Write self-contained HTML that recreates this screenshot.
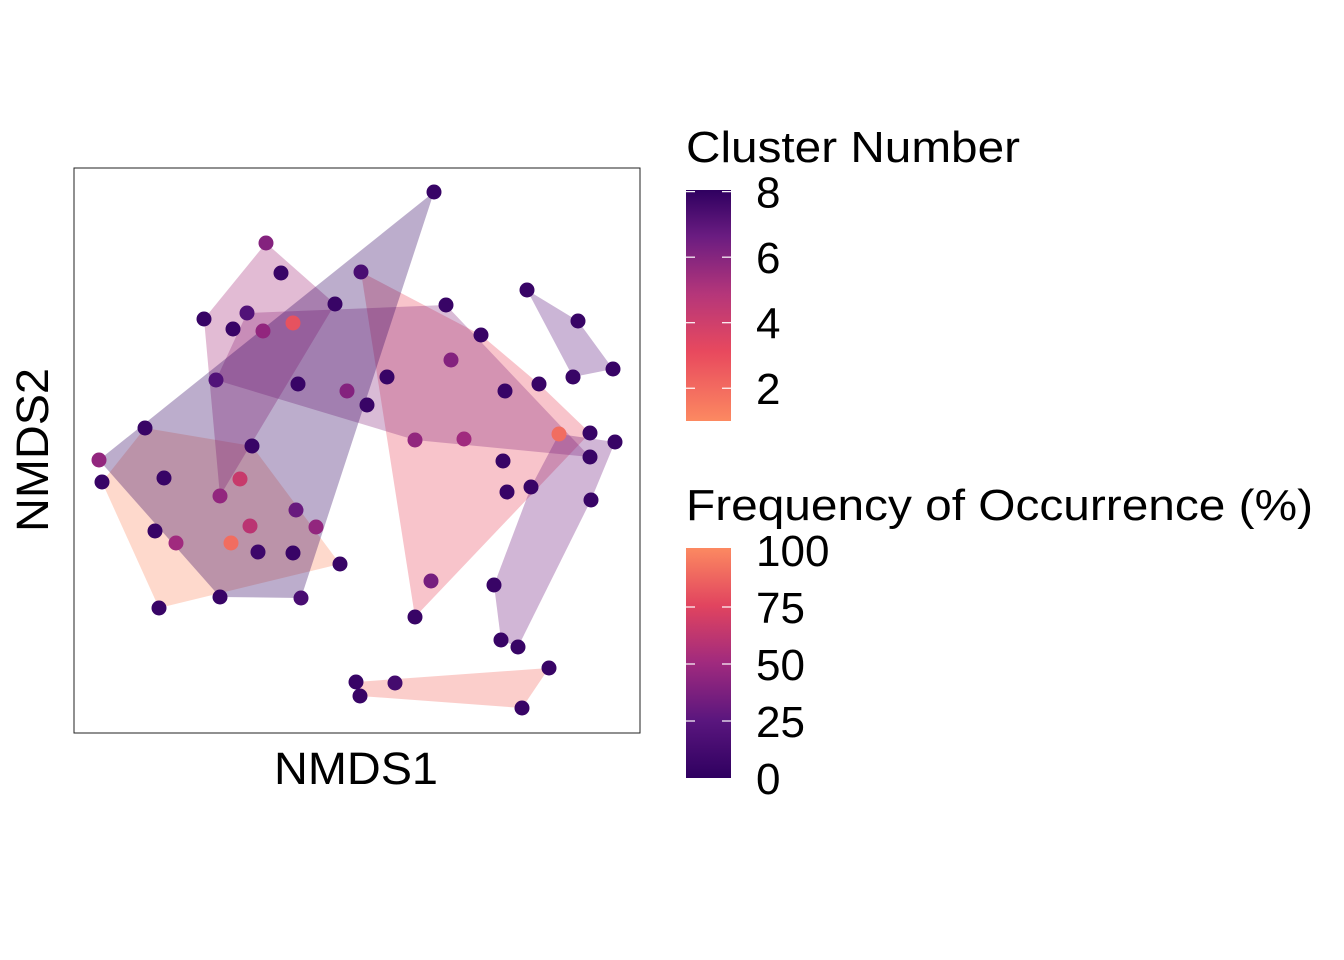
<!DOCTYPE html>
<html><head><meta charset="utf-8">
<style>
html,body{margin:0;padding:0;background:#fff;}
svg{display:block;font-family:"Liberation Sans",Arial,sans-serif;}
</style></head>
<body>
<svg id="chart" width="1344" height="960" viewBox="0 0 1344 960">
<defs>
<linearGradient id="gClust" x1="0" y1="1" x2="0" y2="0">
<stop offset="0" stop-color="#fc8961"/><stop offset="0.3" stop-color="#e8495e"/><stop offset="0.55" stop-color="#b5367a"/><stop offset="0.8" stop-color="#6a1c81"/><stop offset="1" stop-color="#2f0060"/>
</linearGradient>
<linearGradient id="gFreq" x1="0" y1="1" x2="0" y2="0">
<stop offset="0" stop-color="#2f0060"/><stop offset="0.25" stop-color="#5a167e"/><stop offset="0.5" stop-color="#a02a7e"/><stop offset="0.75" stop-color="#e1445f"/><stop offset="1" stop-color="#fc8961"/>
</linearGradient>
</defs>
<rect x="74" y="168" width="566" height="565" fill="#fff" stroke="#222" stroke-width="1"/>
<g id="hulls"></g>
<g id="points"></g>
<text x="274" y="784" font-size="45" textLength="164" lengthAdjust="spacingAndGlyphs">NMDS1</text>
<text transform="translate(48,532) rotate(-90)" font-size="45" textLength="164" lengthAdjust="spacingAndGlyphs">NMDS2</text>

<g>
<text x="686" y="162" font-size="44" textLength="334" lengthAdjust="spacingAndGlyphs">Cluster Number</text>
<rect x="686" y="190" width="45" height="231" fill="url(#gClust)"/>
<g id="clustTicks"></g>
</g>
<g>
<text x="686" y="520" font-size="44" textLength="627" lengthAdjust="spacingAndGlyphs">Frequency of Occurrence (%)</text>
<rect x="686" y="548" width="45" height="230" fill="url(#gFreq)"/>
<g id="freqTicks"></g>
</g>
</svg>
<script>
// data (NMDS coordinates in plot units)
const ptX = [102,159,340,252,145,164,155,176,231,258,293,
             99,434,301,220,250,296,316,240,
             266,281,335,204,233,220,
             247,446,590,415,464,216,263,298,347,367,293,
             361,481,590,415,431,451,387,505,539,503,507,
             559,615,591,518,501,494,531,
             527,578,613,573,
             356,395,360,549,522];
const ptY = [482,608,564,446,428,478,531,543,543,552,553,
             460,192,598,597,526,510,527,479,
             243,273,304,319,329,496,
             313,305,457,440,439,380,331,384,391,405,323,
             272,335,433,617,581,360,377,391,384,461,492,
             434,442,500,647,640,585,487,
             290,321,369,377,
             682,683,696,668,708];
const ptCluster = [1,1,1,1,1,1,1,1,1,1,1,
             8,8,8,8,8,8,8,8,
             5,5,5,5,5,5,
             4,4,4,4,4,4,4,4,4,4,4,
             3,3,3,3,3,3,3,3,3,3,3,
             6,6,6,6,6,6,6,
             7,7,7,7,
             2,2,2,2,2];
const ptFreq = [5,5,5,5,5,5,5,50,90,8,5,
             45,5,15,5,60,30,45,65,
             40,5,5,5,5,45,
             20,5,5,45,50,20,45,5,40,5,80,
             15,5,5,5,35,40,5,5,5,5,5,
             90,5,5,5,5,5,5,
             5,5,5,5,
             5,12,5,5,5];
const clusterLevels = [1,2,3,4,5,6,7,8];
const clusterTickLabels = ["2","4","6","8"];
const clusterTickValues = [2,4,6,8];
const freqTickValues = [0,25,50,75,100];
const freqTickLabels = ["0","25","50","75","100"];

const NS="http://www.w3.org/2000/svg";
const xScale = v => 74 + (v-74)*(566/566);
const yScale = v => 168 + (v-168)*(565/565);
const clusterFill = ["#fc8961","#f2685c","#e8495e","#8a2a7e","#a62b78","#6f1d80","#5e1a7e","#2f0060"];
function hexToRgb(h){return [parseInt(h.substr(1,2),16),parseInt(h.substr(3,2),16),parseInt(h.substr(5,2),16)];}
const fStops=[[0,"#2f0060"],[25,"#5a167e"],[50,"#a02a7e"],[75,"#e1445f"],[100,"#fc8961"]];
function freqColor(f){
  for(let i=0;i<fStops.length-1;i++){
    if(f<=fStops[i+1][0]){const t=(f-fStops[i][0])/(fStops[i+1][0]-fStops[i][0]);
      const a=hexToRgb(fStops[i][1]),b=hexToRgb(fStops[i+1][1]);
      return `rgb(${a.map((c,k)=>Math.round(c+(b[k]-c)*t)).join(',')})`;}
  }
  return fStops[4][1];
}
function hull(p){
  p=p.slice().sort((a,b)=>a[0]-b[0]||a[1]-b[1]);
  const cr=(o,a,b)=>(a[0]-o[0])*(b[1]-o[1])-(a[1]-o[1])*(b[0]-o[0]);
  const lo=[],up=[];
  for(const q of p){while(lo.length>=2&&cr(lo[lo.length-2],lo[lo.length-1],q)<=0)lo.pop();lo.push(q);}
  for(let i=p.length-1;i>=0;i--){const q=p[i];while(up.length>=2&&cr(up[up.length-2],up[up.length-1],q)<=0)up.pop();up.push(q);}
  up.pop();lo.pop();return lo.concat(up);
}
const hg=document.getElementById('hulls');
clusterLevels.forEach(c=>{
  const pts=[];
  ptX.forEach((x,i)=>{if(ptCluster[i]===c)pts.push([xScale(x),yScale(ptY[i])]);});
  if(pts.length<3)return;
  const h=hull(pts);
  const poly=document.createElementNS(NS,'polygon');
  poly.setAttribute('points',h.map(q=>q.join(',')).join(' '));
  poly.setAttribute('fill',clusterFill[c-1]);
  poly.setAttribute('fill-opacity','0.32');
  
  
  hg.appendChild(poly);
});
const pg=document.getElementById('points');
ptX.forEach((x,i)=>{
  const c=document.createElementNS(NS,'circle');
  c.setAttribute('cx',xScale(x));c.setAttribute('cy',yScale(ptY[i]));c.setAttribute('r',7.5);
  c.setAttribute('fill',freqColor(ptFreq[i]));
  
  
  pg.appendChild(c);
});
// legends
const cY=v=>421-(v-1)*(231/7.05);
const ct=document.getElementById('clustTicks');
clusterTickValues.forEach((v,i)=>{
  const y=cY(v);
  [[686,695],[722,731]].forEach(s=>{const l=document.createElementNS(NS,'line');
    l.setAttribute('x1',s[0]);l.setAttribute('x2',s[1]);l.setAttribute('y1',y);l.setAttribute('y2',y);
    l.setAttribute('stroke','#fff');l.setAttribute('stroke-width','1.2');
    
    
    ct.appendChild(l);});
  const t=document.createElementNS(NS,'text');
  t.setAttribute('x',756);t.setAttribute('y',y+16);t.setAttribute('font-size','44');
  t.textContent=clusterTickLabels[i];
  
  
  ct.appendChild(t);
});
const fY=v=>778-v*(228/100);
const ft=document.getElementById('freqTicks');
freqTickValues.forEach((v,i)=>{
  const y=fY(v);
  if(v>0&&v<100){[[686,695],[722,731]].forEach(s=>{const l=document.createElementNS(NS,'line');
    l.setAttribute('x1',s[0]);l.setAttribute('x2',s[1]);l.setAttribute('y1',y);l.setAttribute('y2',y);
    l.setAttribute('stroke','#fff');l.setAttribute('stroke-width','1.2');
    
    
    ft.appendChild(l);});}
  const t=document.createElementNS(NS,'text');
  t.setAttribute('x',756);t.setAttribute('y',y+16);t.setAttribute('font-size','44');
  t.textContent=freqTickLabels[i];
  
  
  ft.appendChild(t);
});
</script>
</body></html>
